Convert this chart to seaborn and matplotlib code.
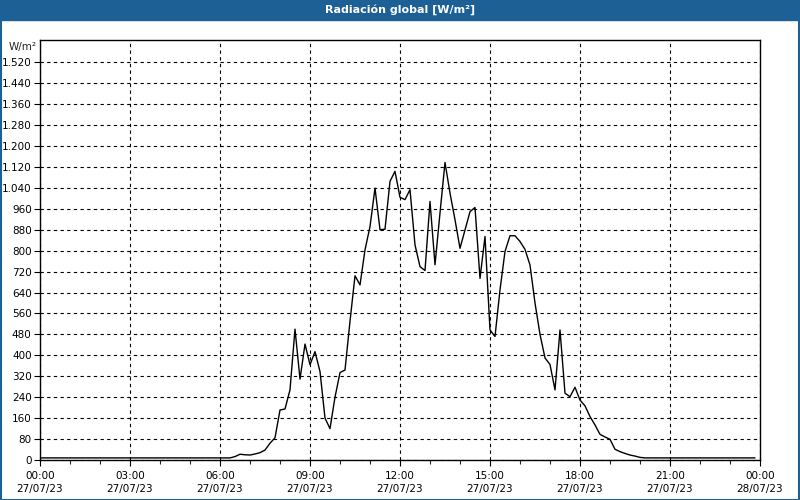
import pandas as pd
import seaborn as sns
import matplotlib.pyplot as plt
import matplotlib.dates as mdates
from matplotlib.ticker import FuncFormatter, FixedLocator
from matplotlib.patches import Rectangle

# Readings (10 min steps during the day, night plateau at the ends)
times = ["00:00", "06:20", "06:30", "06:40", "06:50", "07:00", "07:10", "07:20", "07:30",
         "07:40", "07:50", "08:00", "08:10", "08:20", "08:30", "08:40", "08:50", "09:00",
         "09:10", "09:20", "09:30", "09:40", "09:50", "10:00", "10:10", "10:20", "10:30",
         "10:40", "10:50", "11:00", "11:10", "11:20", "11:30", "11:40", "11:50", "12:00",
         "12:10", "12:20", "12:30", "12:40", "12:50", "13:00", "13:10", "13:20", "13:30",
         "13:40", "13:50", "14:00", "14:10", "14:20", "14:30", "14:40", "14:50", "15:00",
         "15:10", "15:20", "15:30", "15:40", "15:50", "16:00", "16:10", "16:20", "16:30",
         "16:40", "16:50", "17:00", "17:10", "17:20", "17:30", "17:40", "17:50", "18:00",
         "18:10", "18:20", "18:30", "18:40", "18:50", "19:00", "19:10", "19:20", "19:30",
         "19:40", "19:50", "20:00", "20:10", "23:50"]
values = [8, 8, 13, 22, 20, 19, 23, 28, 38,
          64, 85, 191, 195, 268, 500, 309, 443, 364,
          414, 338, 160, 120, 240, 334, 344, 530, 704,
          669, 803, 892, 1039, 880, 882, 1065, 1103, 1004,
          995, 1033, 822, 739, 724, 988, 746, 944, 1137,
          1020, 918, 809, 879, 949, 965, 694, 854, 497,
          472, 650, 797, 857, 857, 835, 805, 745, 600,
          480, 390, 365, 268, 497, 255, 242, 278, 229,
          207, 166, 134, 98, 88, 79, 41, 32, 25,
          19, 15, 10, 8, 8]
y_ticks = [0, 80, 160, 240, 320, 400, 480, 560, 640, 720, 800, 880, 960,
           1040, 1120, 1200, 1280, 1360, 1440, 1520]

df = pd.DataFrame({"time": pd.to_datetime(["2023-07-27 " + t for t in times]),
                   "value": values})

sns.set_style("white")
plt.rcParams['font.family'] = ['DejaVu Sans']

fig = plt.figure(figsize=(8, 5), dpi=100)
ax = fig.add_axes([0.05, 0.08, 0.9, 0.84])

sns.lineplot(data=df, x="time", y="value", color="black", linewidth=1, ax=ax)

# title bar and outer frame
fig.patches.append(Rectangle((0, 0.96), 1, 0.04, transform=fig.transFigure,
                             color="#1d6096", zorder=0))
fig.patches.append(Rectangle((0.001, 0.001), 0.998, 0.998, transform=fig.transFigure,
                             fill=False, edgecolor="#1d6096", linewidth=1.5))
fig.text(0.5, 0.98, "Radiación global [W/m²]", color="white", fontsize=8,
         fontweight="bold", ha="center", va="center")

ax.set_xlim(pd.Timestamp("2023-07-27 00:00"), pd.Timestamp("2023-07-28 00:00"))
ax.set_ylim(0, 1605)
ax.xaxis.set_major_locator(mdates.HourLocator(byhour=range(0, 24, 3)))
ax.xaxis.set_minor_locator(mdates.HourLocator())
ax.xaxis.set_major_formatter(mdates.DateFormatter("%H:%M\n%d/%m/%y"))
ax.yaxis.set_major_locator(FixedLocator(y_ticks))
ax.yaxis.set_major_formatter(FuncFormatter(lambda v, p: f"{int(v):,}".replace(",", ".")))

ax.grid(True, which="major", color="black", linestyle=(0, (3, 3)), linewidth=0.8)
for s in ax.spines.values():
    s.set_color("black")
    s.set_linewidth(1)
ax.tick_params(axis="both", which="major", direction="out", length=4, width=0.8,
               labelsize=7.5, colors="black", left=True, bottom=True, pad=2)
ax.tick_params(axis="x", which="minor", direction="out", length=3, width=0.8, bottom=True)
ax.tick_params(axis="x", which="major", pad=4)
for lbl in ax.get_xticklabels():
    lbl.set_linespacing(1.4)
ax.set_xlabel("")
ax.set_ylabel("")
ax.text(-0.005, 0.995, "W/m²", transform=ax.transAxes, ha="right", va="top", fontsize=7.5)

fig.savefig("out.png", dpi=100)
